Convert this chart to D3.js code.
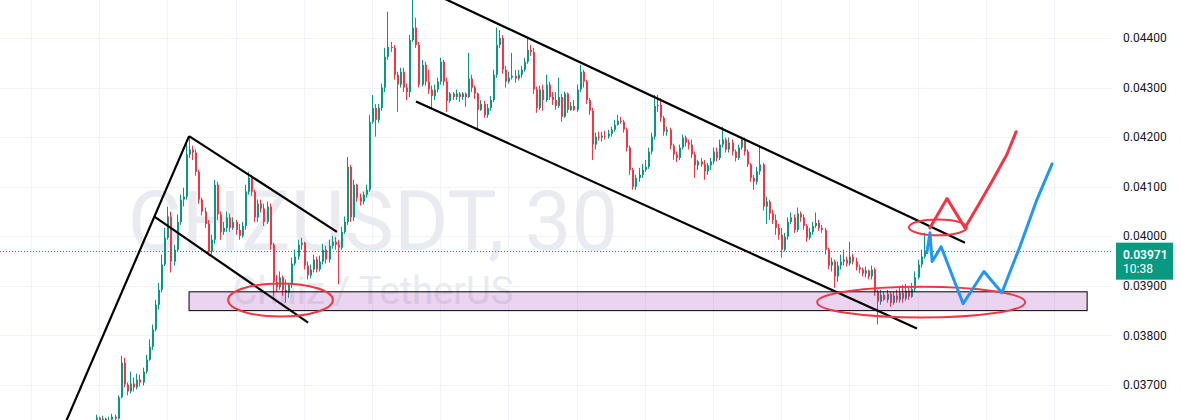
<!DOCTYPE html>
<html>
<head>
<meta charset="UTF-8">
<title>CHZUSDT, 30</title>
<script src="https://cdn.jsdelivr.net/npm/d3@7"></script>
<style>
  body { margin: 0; background: #ffffff; }
  svg { display: block; font-family: Roboto, "Liberation Sans", sans-serif; }
</style>
</head>
<body>
<script>
var W = 1181, H = 420;

// candle prices, in units of 0.00001 USDT (open = previous close)
var firstOpen = 3630;
var closes = [
  3634, 3628, 3632, 3626, 3630, 3636, 3632, 3675, 3745, 3701,
  3687, 3703, 3695, 3711, 3705, 3727, 3751, 3777, 3812, 3862,
  3892, 3943, 3997, 4040, 3949, 3973, 4029, 4074, 4080, 4165,
  4175, 4169, 4130, 4074, 4050, 4025, 3969, 3993, 4104, 4044,
  4009, 4017, 4038, 4017, 4029, 4013, 4001, 4021, 4090, 4118,
  4090, 4038, 4066, 4056, 4029, 4060, 3983, 3908, 3897, 3917,
  3892, 3886, 3902, 3945, 3959, 3983, 3987, 3941, 3921, 3933,
  3953, 3933, 3949, 3973, 3953, 3981, 3989, 3983, 3977, 4009,
  4029, 4140, 4038, 4104, 4078, 4070, 4084, 4094, 4231, 4259,
  4235, 4259, 4300, 4362, 4382, 4380, 4326, 4306, 4332, 4300,
  4291, 4396, 4421, 4386, 4306, 4346, 4312, 4296, 4283, 4296,
  4312, 4352, 4312, 4273, 4288, 4281, 4288, 4281, 4288, 4281,
  4318, 4300, 4288, 4255, 4267, 4245, 4259, 4275, 4326, 4386,
  4400, 4336, 4312, 4320, 4324, 4318, 4326, 4336, 4352, 4376,
  4372, 4296, 4259, 4296, 4275, 4306, 4281, 4275, 4263, 4281,
  4241, 4288, 4255, 4263, 4255, 4296, 4332, 4312, 4275, 4253,
  4185, 4201, 4199, 4203, 4201, 4207, 4215, 4225, 4233, 4231,
  4215, 4179, 4134, 4100, 4118, 4124, 4134, 4140, 4171, 4201,
  4263, 4265, 4239, 4211, 4215, 4183, 4165, 4158, 4179, 4199,
  4189, 4185, 4165, 4143, 4151, 4145, 4131, 4143, 4151, 4171,
  4158, 4185, 4195, 4175, 4189, 4171, 4158, 4179, 4195, 4171,
  4145, 4118, 4110, 4131, 4145, 4060, 4070, 4046, 4033, 4017,
  4003, 3973, 3999, 4029, 4038, 4013, 4046, 4038, 4021, 3997,
  4009, 4021, 4027, 4017, 4013, 3973, 3941, 3949, 3919, 3941,
  3949, 3953, 3945, 3959, 3949, 3937, 3933, 3925, 3931, 3919,
  3933, 3888, 3868, 3882, 3872, 3884, 3866, 3880, 3872, 3886,
  3874, 3890, 3878, 3894, 3917, 3943, 3959, 3971
];
var highs = [
  3640, 3636, 3638, 3634, 3636, 3642, 3640, 3679, 3759, 3755,
  3705, 3727, 3715, 3723, 3721, 3735, 3761, 3792, 3822, 3872,
  3906, 3963, 4017, 4060, 4050, 3983, 4044, 4084, 4098, 4195,
  4201, 4183, 4175, 4134, 4078, 4058, 4033, 4003, 4114, 4110,
  4050, 4029, 4050, 4046, 4038, 4033, 4025, 4029, 4104, 4130,
  4124, 4094, 4074, 4074, 4066, 4070, 4066, 3987, 3922, 3929,
  3921, 3913, 3906, 3957, 3973, 3993, 3997, 3989, 3949, 3943,
  3963, 3959, 3961, 3985, 3981, 3993, 4001, 3999, 3993, 4019,
  4040, 4160, 4144, 4114, 4106, 4086, 4090, 4104, 4245, 4285,
  4267, 4267, 4308, 4380, 4453, 4392, 4386, 4332, 4340, 4340,
  4308, 4406, 4482, 4441, 4392, 4356, 4352, 4336, 4304, 4306,
  4320, 4360, 4356, 4320, 4291, 4291, 4296, 4291, 4291, 4290,
  4370, 4326, 4304, 4290, 4275, 4273, 4267, 4283, 4336, 4421,
  4416, 4406, 4344, 4332, 4370, 4336, 4336, 4344, 4360, 4400,
  4386, 4380, 4302, 4304, 4306, 4326, 4312, 4291, 4291, 4320,
  4287, 4292, 4290, 4271, 4275, 4306, 4346, 4336, 4316, 4279,
  4259, 4209, 4211, 4211, 4213, 4215, 4221, 4235, 4245, 4241,
  4235, 4219, 4183, 4138, 4124, 4138, 4146, 4154, 4179, 4209,
  4285, 4285, 4279, 4243, 4221, 4219, 4187, 4171, 4185, 4205,
  4203, 4195, 4195, 4171, 4154, 4158, 4154, 4148, 4158, 4179,
  4179, 4195, 4221, 4199, 4199, 4195, 4175, 4185, 4201, 4199,
  4175, 4148, 4124, 4140, 4181, 4148, 4080, 4074, 4054, 4044,
  4025, 4017, 4007, 4038, 4048, 4044, 4058, 4050, 4044, 4025,
  4017, 4029, 4048, 4033, 4023, 4017, 3977, 3957, 3953, 3949,
  3963, 3973, 3959, 3989, 3965, 3957, 3943, 3937, 3939, 3933,
  3941, 3937, 3892, 3892, 3888, 3892, 3888, 3888, 3892, 3896,
  3902, 3904, 3896, 3906, 3929, 3953, 3973, 4007
];
var lows = [
  3626, 3622, 3624, 3620, 3622, 3628, 3626, 3630, 3673, 3695,
  3679, 3683, 3687, 3691, 3697, 3699, 3723, 3749, 3771, 3808,
  3852, 3887, 3940, 3993, 3927, 3941, 3969, 4023, 4060, 4074,
  4158, 4154, 4122, 4066, 4042, 4017, 3961, 3963, 3985, 4033,
  3993, 4003, 4009, 4009, 4013, 4003, 3993, 3997, 4013, 4084,
  4082, 4029, 4029, 4048, 4021, 4025, 3973, 3878, 3888, 3892,
  3880, 3866, 3876, 3896, 3941, 3953, 3973, 3933, 3913, 3915,
  3927, 3927, 3929, 3943, 3945, 3947, 3975, 3973, 3903, 3973,
  4005, 4023, 4029, 4031, 4070, 4062, 4064, 4078, 4090, 4227,
  4201, 4229, 4253, 4291, 4356, 4372, 4316, 4251, 4300, 4291,
  4275, 4281, 4392, 4380, 4300, 4302, 4304, 4287, 4259, 4275,
  4290, 4306, 4304, 4251, 4269, 4275, 4275, 4271, 4275, 4261,
  4279, 4291, 4277, 4215, 4253, 4239, 4239, 4253, 4271, 4320,
  4380, 4328, 4300, 4308, 4316, 4310, 4314, 4320, 4332, 4348,
  4364, 4287, 4249, 4255, 4253, 4271, 4275, 4265, 4255, 4259,
  4231, 4239, 4249, 4253, 4253, 4251, 4291, 4300, 4267, 4245,
  4154, 4175, 4193, 4191, 4195, 4197, 4201, 4211, 4223, 4227,
  4209, 4171, 4124, 4094, 4094, 4110, 4118, 4130, 4136, 4165,
  4195, 4251, 4231, 4203, 4203, 4175, 4154, 4150, 4154, 4175,
  4181, 4175, 4158, 4118, 4134, 4140, 4114, 4124, 4134, 4145,
  4151, 4154, 4179, 4169, 4169, 4163, 4151, 4154, 4175, 4163,
  4140, 4110, 4094, 4104, 4124, 4052, 4025, 4033, 4025, 4003,
  3993, 3957, 3969, 3993, 4025, 4007, 4009, 4029, 4013, 3989,
  3993, 4003, 4017, 4011, 4007, 3963, 3933, 3929, 3896, 3908,
  3933, 3941, 3939, 3941, 3943, 3931, 3925, 3919, 3917, 3913,
  3913, 3880, 3822, 3862, 3870, 3866, 3858, 3862, 3866, 3866,
  3866, 3870, 3872, 3876, 3887, 3913, 3937, 3955
];

var lastPrice = 0.03971;
var countdown = "10:38";
var priceTicks = [0.037, 0.038, 0.039, 0.040, 0.041, 0.042, 0.043, 0.044];
// candle index of the vertical time grid lines
var timeGrid = [-21.3, 0.7, 22.7, 44.7, 66.7, 88.7, 110.7, 132.7, 154.7, 176.7, 198.7, 220.7, 242.7, 264.7, 286.7, 308.7];

// drawings: [candle index, price in 0.00001 units]
var trendLines = [
  [[-12.5, 3590], [29.7, 4202]],
  [[29.7, 4202], [77.4, 4009]],
  [[18.4, 4040], [68.1, 3826]],
  [[107.4, 4493], [280.0, 3987]],
  [[102.9, 4272], [264.5, 3814]]
];
var zone = [[29.7, 3888], [319.4, 3850]];
var ellipses = [
  [[42.3, 3905], [76.1, 3838]],
  [[232.3, 3898], [299.4, 3836]],
  [[261.9, 4034], [280.6, 4002]]
];
var redPath = [[268.7, 4017], [274.2, 4076], [280.0, 4017], [284.8, 4068], [289.0, 4114], [293.5, 4165], [296.5, 4211]];
var bluePath = [[267.7, 3967], [268.7, 4007], [269.4, 3949], [272.3, 3979], [279.4, 3864], [286.1, 3929], [291.9, 3886], [297.7, 3979], [303.2, 4074], [308.1, 4146]];

var UP = "#089981", DOWN = "#f23645";

var x = d3.scaleLinear().domain([0, closes.length - 1]).range([97, 924.7]);
var y = d3.scaleLinear().domain([0.037, 0.044]).range([385, 38]);
function py(v) { return y(v / 1e5); }

var candles = closes.map(function(c, i) {
  return { i: i, o: i == 0 ? firstOpen : closes[i - 1], c: c, h: highs[i], l: lows[i] };
});

var svg = d3.select("body").append("svg").attr("width", W).attr("height", H);
svg.append("rect").attr("width", W).attr("height", H).attr("fill", "#ffffff");

svg.append("clipPath").attr("id", "plot")
  .append("rect").attr("x", 0).attr("y", 0).attr("width", 1113).attr("height", H);

var plot = svg.append("g").attr("clip-path", "url(#plot)");

// grid
plot.selectAll(".hgrid").data(priceTicks).enter().append("line")
  .attr("x1", 0).attr("x2", 1113)
  .attr("y1", function(d) { return Math.round(y(d)) + 0.5; })
  .attr("y2", function(d) { return Math.round(y(d)) + 0.5; })
  .attr("stroke", "#f0f3fa");
plot.selectAll(".vgrid").data(timeGrid).enter().append("line")
  .attr("x1", function(d) { return Math.round(x(d)) + 0.5; })
  .attr("x2", function(d) { return Math.round(x(d)) + 0.5; })
  .attr("y1", 0).attr("y2", H)
  .attr("stroke", "#f0f3fa");

// watermark
plot.append("text").attr("x", 373).attr("y", 250)
  .attr("text-anchor", "middle").attr("font-size", 83)
  .attr("fill", "#e9ebf0").text("CHZUSDT, 30");
plot.append("text").attr("x", 373).attr("y", 304)
  .attr("text-anchor", "middle").attr("font-size", 38)
  .attr("fill", "#e9ebf0").text("Chiliz / TetherUS");

// last price line
plot.append("line")
  .attr("x1", 0).attr("x2", 1116)
  .attr("y1", Math.round(y(lastPrice)) + 0.5).attr("y2", Math.round(y(lastPrice)) + 0.5)
  .attr("stroke", UP).attr("stroke-dasharray", "1,2");

// candles
var cg = plot.selectAll(".candle").data(candles).enter().append("g");
cg.append("line")
  .attr("x1", function(d) { return Math.round(x(d.i)) - 0.5; })
  .attr("x2", function(d) { return Math.round(x(d.i)) - 0.5; })
  .attr("y1", function(d) { return py(d.h); })
  .attr("y2", function(d) { return py(d.l); })
  .attr("stroke", function(d) { return d.c >= d.o ? UP : DOWN; });
cg.append("rect")
  .attr("x", function(d) { return Math.round(x(d.i)) - 1; })
  .attr("width", 2)
  .attr("y", function(d) { return py(Math.max(d.o, d.c)); })
  .attr("height", function(d) { return Math.max(1, Math.abs(py(d.o) - py(d.c))); })
  .attr("fill", function(d) { return d.c >= d.o ? UP : DOWN; });

// zone
plot.append("rect")
  .attr("x", x(zone[0][0])).attr("y", py(zone[0][1]))
  .attr("width", x(zone[1][0]) - x(zone[0][0]))
  .attr("height", py(zone[1][1]) - py(zone[0][1]))
  .attr("fill", "rgba(156, 39, 176, 0.2)")
  .attr("stroke", "#000000").attr("stroke-width", 1);

// trend lines
plot.selectAll(".trend").data(trendLines).enter().append("line")
  .attr("x1", function(d) { return x(d[0][0]); })
  .attr("y1", function(d) { return py(d[0][1]); })
  .attr("x2", function(d) { return x(d[1][0]); })
  .attr("y2", function(d) { return py(d[1][1]); })
  .attr("stroke", "#000000").attr("stroke-width", 2.2);

// ellipses
plot.selectAll(".ell").data(ellipses).enter().append("ellipse")
  .attr("cx", function(d) { return (x(d[0][0]) + x(d[1][0])) / 2; })
  .attr("cy", function(d) { return (py(d[0][1]) + py(d[1][1])) / 2; })
  .attr("rx", function(d) { return (x(d[1][0]) - x(d[0][0])) / 2; })
  .attr("ry", function(d) { return (py(d[1][1]) - py(d[0][1])) / 2; })
  .attr("fill", "none").attr("stroke", "#f23645").attr("stroke-width", 2);

// projected paths
var line = d3.line().x(function(d) { return x(d[0]); }).y(function(d) { return py(d[1]); });
plot.append("path").attr("d", line(redPath))
  .attr("fill", "none").attr("stroke", "#f23645").attr("stroke-width", 3)
  .attr("stroke-linejoin", "round").attr("stroke-linecap", "round");
plot.append("path").attr("d", line(bluePath))
  .attr("fill", "none").attr("stroke", "#2196f3").attr("stroke-width", 3)
  .attr("stroke-linejoin", "round").attr("stroke-linecap", "round");

// price axis
svg.selectAll(".tick").data(priceTicks).enter().append("text")
  .attr("x", 1123).attr("y", function(d) { return y(d); })
  .attr("dy", "0.35em").attr("font-size", 12).attr("fill", "#131722")
  .text(function(d) { return d.toFixed(5); });

var ly = y(lastPrice);
svg.append("rect").attr("x", 1116).attr("y", ly - 8).attr("width", 57).attr("height", 37)
  .attr("fill", UP);
svg.append("text").attr("x", 1123).attr("y", ly + 4).attr("dy", "0.35em")
  .attr("font-size", 12).attr("font-weight", 600).attr("fill", "#ffffff")
  .text(lastPrice.toFixed(5));
svg.append("text").attr("x", 1123).attr("y", ly + 18).attr("dy", "0.35em")
  .attr("font-size", 12).attr("fill", "#ffffff")
  .text(countdown);
</script>
</body>
</html>
